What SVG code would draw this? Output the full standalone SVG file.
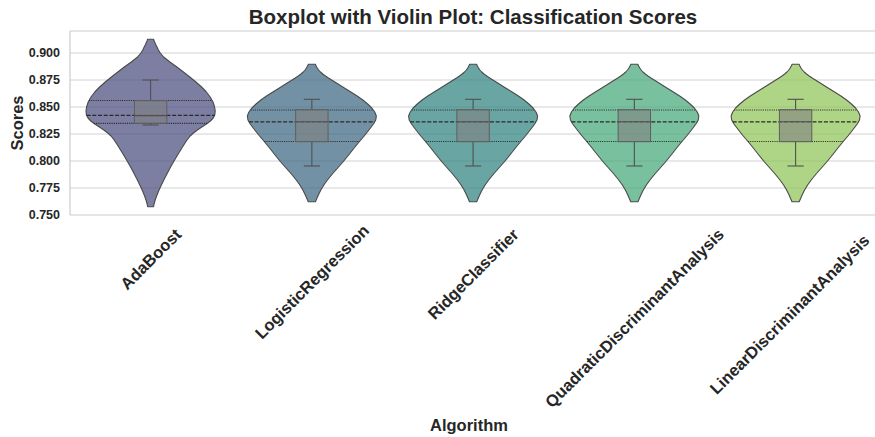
<svg xmlns="http://www.w3.org/2000/svg" xmlns:xlink="http://www.w3.org/1999/xlink" width="875" height="437" viewBox="0 0 875 437">
<style>
.grid{stroke:#d2d2d2;stroke-width:1;fill:none}
.spine{stroke:#cccccc;stroke-width:1.2;fill:none}
.vio{stroke:#4a4a4a;stroke-width:1.1;stroke-linejoin:round;fill-opacity:0.72}
.med{stroke:#2a2a2a;stroke-width:1.2;stroke-dasharray:4 1.7;fill:none}
.qrt{stroke:#2a2a2a;stroke-width:1.2;stroke-dasharray:1.1 1.1;fill:none}
.box{fill:#808080;fill-opacity:0.6;stroke:#5f5f5f;stroke-width:1}
.wh{stroke:#505050;stroke-width:1.1;fill:none}
text{font-family:"Liberation Sans",Arial,sans-serif;font-weight:bold;fill:#262626}
.title{font-size:20.5px;text-anchor:middle}
.yt{font-size:12.5px;text-anchor:end}
.xt{font-size:16.5px;text-anchor:middle}
.lab{font-size:16.5px;text-anchor:middle}
</style>
<defs>
<path id="shapeA" d="M3,39.3 L3.6,41 4.5,43 5.4,45 6.4,47 7.8,50 9.7,53 13,57 19.3,62 26.3,67 32.8,72 39.2,77 45.3,82 51,87 55.8,92 59.6,97 62.4,102 64,107 64.6,111 64.2,115 62.6,118 59.8,121 55.8,124 51.2,127 46.8,130 42.8,133 39.6,136 36.4,140 32.5,146 28.2,153 24,160 20,167 16.3,174 13.2,180 10.3,186 8,191 6,196 4.6,200 3.6,203.5 3,206.7 L-3,206.7 -3.6,203.5 -4.6,200 -6,196 -8,191 -10.3,186 -13.2,180 -16.3,174 -20,167 -24,160 -28.2,153 -32.5,146 -36.4,140 -39.6,136 -42.8,133 -46.8,130 -51.2,127 -55.8,124 -59.8,121 -62.6,118 -64.2,115 -64.6,111 -64,107 -62.4,102 -59.6,97 -55.8,92 -51,87 -45.3,82 -39.2,77 -32.8,72 -26.3,67 -19.3,62 -13,57 -9.7,53 -7.8,50 -6.4,47 -5.4,45 -4.5,43 -3.6,41 -3,39.3 Z"/>
<path id="shapeB" d="M3.5,64.3 L4.3,66 5.4,68 6.8,70 8.6,72 10.9,74 13.6,76 16.6,78 19.8,80 23,82 26.2,84 32.5,88 39,92 45.3,96 51,100 55.8,104 60,108 62.9,112 64.5,116 63.9,120 61.6,124 58.6,128 55.5,132 52.3,136 47.6,141.5 42.3,148 36.8,155 31.1,162 25.8,168 20.5,174 15.6,180 12,185 9,190 7,194 5.2,198 3.6,201.7 L-3.6,201.7 -5.2,198 -7,194 -9,190 -12,185 -15.6,180 -20.5,174 -25.8,168 -31.1,162 -36.8,155 -42.3,148 -47.6,141.5 -52.3,136 -55.5,132 -58.6,128 -61.6,124 -63.9,120 -64.5,116 -62.9,112 -60,108 -55.8,104 -51,100 -45.3,96 -39,92 -32.5,88 -26.2,84 -23,82 -19.8,80 -16.6,78 -13.6,76 -10.9,74 -8.6,72 -6.8,70 -5.4,68 -4.3,66 -3.5,64.3 Z"/>
<g id="innerB">
<line class="qrt" x1="-61.4" y1="110" x2="61.4" y2="110"/>
<line class="med" x1="-62.9" y1="121.8" x2="62.9" y2="121.8"/>
<line class="qrt" x1="-47.6" y1="141.5" x2="47.6" y2="141.5"/>
<line class="wh" x1="0" y1="109.7" x2="0" y2="99.3"/>
<line class="wh" x1="-8.1" y1="99.3" x2="8.1" y2="99.3"/>
<line class="wh" x1="0" y1="141.7" x2="0" y2="166"/>
<line class="wh" x1="-8.1" y1="166" x2="8.1" y2="166"/>
<rect class="box" x="-16.2" y="109.7" width="32.4" height="32"/>
<line class="wh" x1="-16.2" y1="121.8" x2="16.2" y2="121.8"/>
</g>
</defs>

<g id="axes">
<line class="grid" x1="70" y1="53" x2="875" y2="53"/>
<line class="grid" x1="70" y1="80" x2="875" y2="80"/>
<line class="grid" x1="70" y1="107" x2="875" y2="107"/>
<line class="grid" x1="70" y1="134" x2="875" y2="134"/>
<line class="grid" x1="70" y1="161" x2="875" y2="161"/>
<line class="grid" x1="70" y1="188" x2="875" y2="188"/>
<line class="spine" x1="70" y1="31" x2="875" y2="31"/>
<line class="spine" x1="70" y1="215" x2="875" y2="215"/>
<line class="spine" x1="70" y1="31" x2="70" y2="215"/>
<text class="yt" x="60" y="57.4">0.900</text>
<text class="yt" x="60" y="84.4">0.875</text>
<text class="yt" x="60" y="111.4">0.850</text>
<text class="yt" x="60" y="138.4">0.825</text>
<text class="yt" x="60" y="165.4">0.800</text>
<text class="yt" x="60" y="192.4">0.775</text>
<text class="yt" x="60" y="219.4">0.750</text>
<text class="title" x="473" y="24">Boxplot with Violin Plot: Classification Scores</text>
<text class="lab" transform="translate(22.5,123) rotate(-90)">Scores</text>
<text class="lab" x="469" y="430.5">Algorithm</text>
</g>

<g id="adaboost">
<use xlink:href="#shapeA" href="#shapeA" x="150.6" class="vio" fill="#4a4c7e"/>
<g transform="translate(150.6,0)">
<line class="qrt" x1="-61.6" y1="100.5" x2="61.6" y2="100.5"/>
<line class="med" x1="-64" y1="115.4" x2="64" y2="115.4"/>
<line class="qrt" x1="-56.7" y1="123.3" x2="56.7" y2="123.3"/>
<line class="wh" x1="0" y1="100.7" x2="0" y2="80"/>
<line class="wh" x1="-8.1" y1="80" x2="8.1" y2="80"/>
<line class="wh" x1="0" y1="123.3" x2="0" y2="125"/>
<line class="wh" x1="-8.1" y1="125" x2="8.1" y2="125"/>
<rect class="box" x="-16.2" y="100.7" width="32.4" height="22.6"/>
<line class="wh" x1="-16.2" y1="115.6" x2="16.2" y2="115.6"/>
</g>
<text class="xt" x="150.6" y="264.8" transform="rotate(-45 150.6 258.9)">AdaBoost</text>
</g>

<g id="logisticregression">
<use xlink:href="#shapeB" href="#shapeB" x="311.85" class="vio" fill="#3d6682"/>
<use xlink:href="#innerB" href="#innerB" x="311.85"/>
<text class="xt" x="311.85" y="287.5" transform="rotate(-45 311.85 281.6)">LogisticRegression</text>
</g>

<g id="ridgeclassifier">
<use xlink:href="#shapeB" href="#shapeB" x="473.1" class="vio" fill="#2f837f"/>
<use xlink:href="#innerB" href="#innerB" x="473.1"/>
<text class="xt" x="473.1" y="279.8" transform="rotate(-45 473.1 273.9)">RidgeClassifier</text>
</g>

<g id="quadraticdiscriminantanalysis">
<use xlink:href="#shapeB" href="#shapeB" x="634.35" class="vio" fill="#45a778"/>
<use xlink:href="#innerB" href="#innerB" x="634.35"/>
<text class="xt" x="634.35" y="323.8" transform="rotate(-45 634.35 317.9)">QuadraticDiscriminantAnalysis</text>
</g>

<g id="lineardiscriminantanalysis">
<use xlink:href="#shapeB" href="#shapeB" x="795.6" class="vio" fill="#8fc456"/>
<use xlink:href="#innerB" href="#innerB" x="795.6"/>
<text class="xt" x="789.5" y="320.2" transform="rotate(-45 789.5 314.3)">LinearDiscriminantAnalysis</text>
</g>

<g id="connectors"></g>
</svg>
